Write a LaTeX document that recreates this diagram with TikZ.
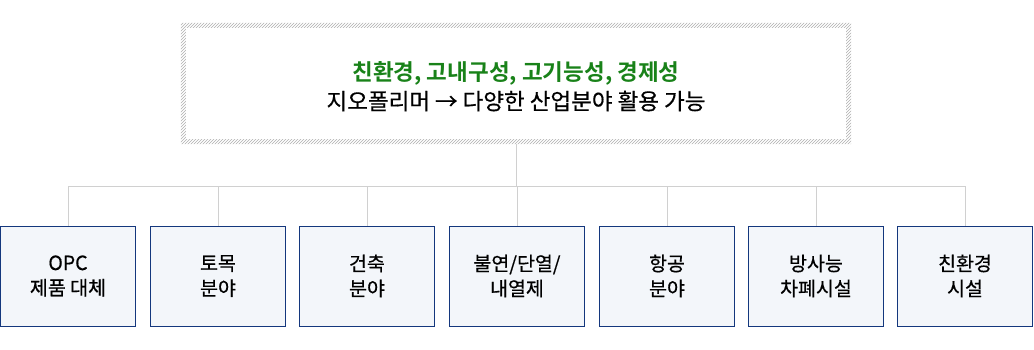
\documentclass[tikz,border=0pt]{standalone}
\usepackage{fontspec}
\newfontfamily\kr{Noto Sans CJK KR}[FakeBold=0.5]
\newfontfamily\krb{Noto Sans CJK KR Bold}
\usetikzlibrary{positioning,patterns}
\definecolor{fieldblue}{RGB}{20,55,125}
\definecolor{fieldfill}{RGB}{243,246,250}
\definecolor{ecogreen}{RGB}{25,130,25}
\definecolor{linegray}{RGB}{208,208,208}
\definecolor{hatchgray}{RGB}{175,175,175}
\tikzset{
    % top summary frame
    topbox/.style={
        minimum width=670pt, minimum height=121pt, inner sep=0pt
    },
    toptext/.style={
        inner sep=0pt, align=center,
        font=\kr\fontsize{22.5}{29}\selectfont
    },
    % application field boxes
    fieldbox/.style={
        draw=fieldblue, fill=fieldfill, line width=1pt,
        minimum width=135pt, minimum height=100pt,
        inner sep=0pt, align=center,
        font=\kr\fontsize{19.5}{25}\selectfont
    },
    conn/.style={draw=linegray, line width=1pt},
}

\begin{document}
\begin{tikzpicture}[x=1pt,y=-1pt]
  \useasboundingbox (0,0) rectangle (1034,350);
  \node[topbox] (top) at (516,83.5) {};
  \node[toptext] (slogan) at (516,86.5)
    {\textcolor{ecogreen}{\krb 친환경, 고내구성, 고기능성, 경제성}\\
     지오폴리머 → 다양한 산업분야 활용 가능};
  % hatched frame
  \fill[pattern=north east lines, pattern color=hatchgray, even odd rule]
    (top.north west) rectangle (top.south east)
    ([shift={(5pt,-5pt)}]top.north west) rectangle ([shift={(-5pt,5pt)}]top.south east);
  \coordinate (split) at (516,187);
  \foreach \i/\x/\txt in {1/68/{OPC\\제품 대체},2/218/{토목\\분야},3/367/{건축\\분야},
      4/517/{불연/단열/\\내열제},5/667/{항공\\분야},6/816/{방사능\\차폐시설},7/965/{친환경\\시설}}{
    \node[fieldbox] (f\i) at (\x,276) {\txt};
    \draw[conn] (top.south) -- (split) -| (f\i.north);
  }
\end{tikzpicture}
\end{document}
